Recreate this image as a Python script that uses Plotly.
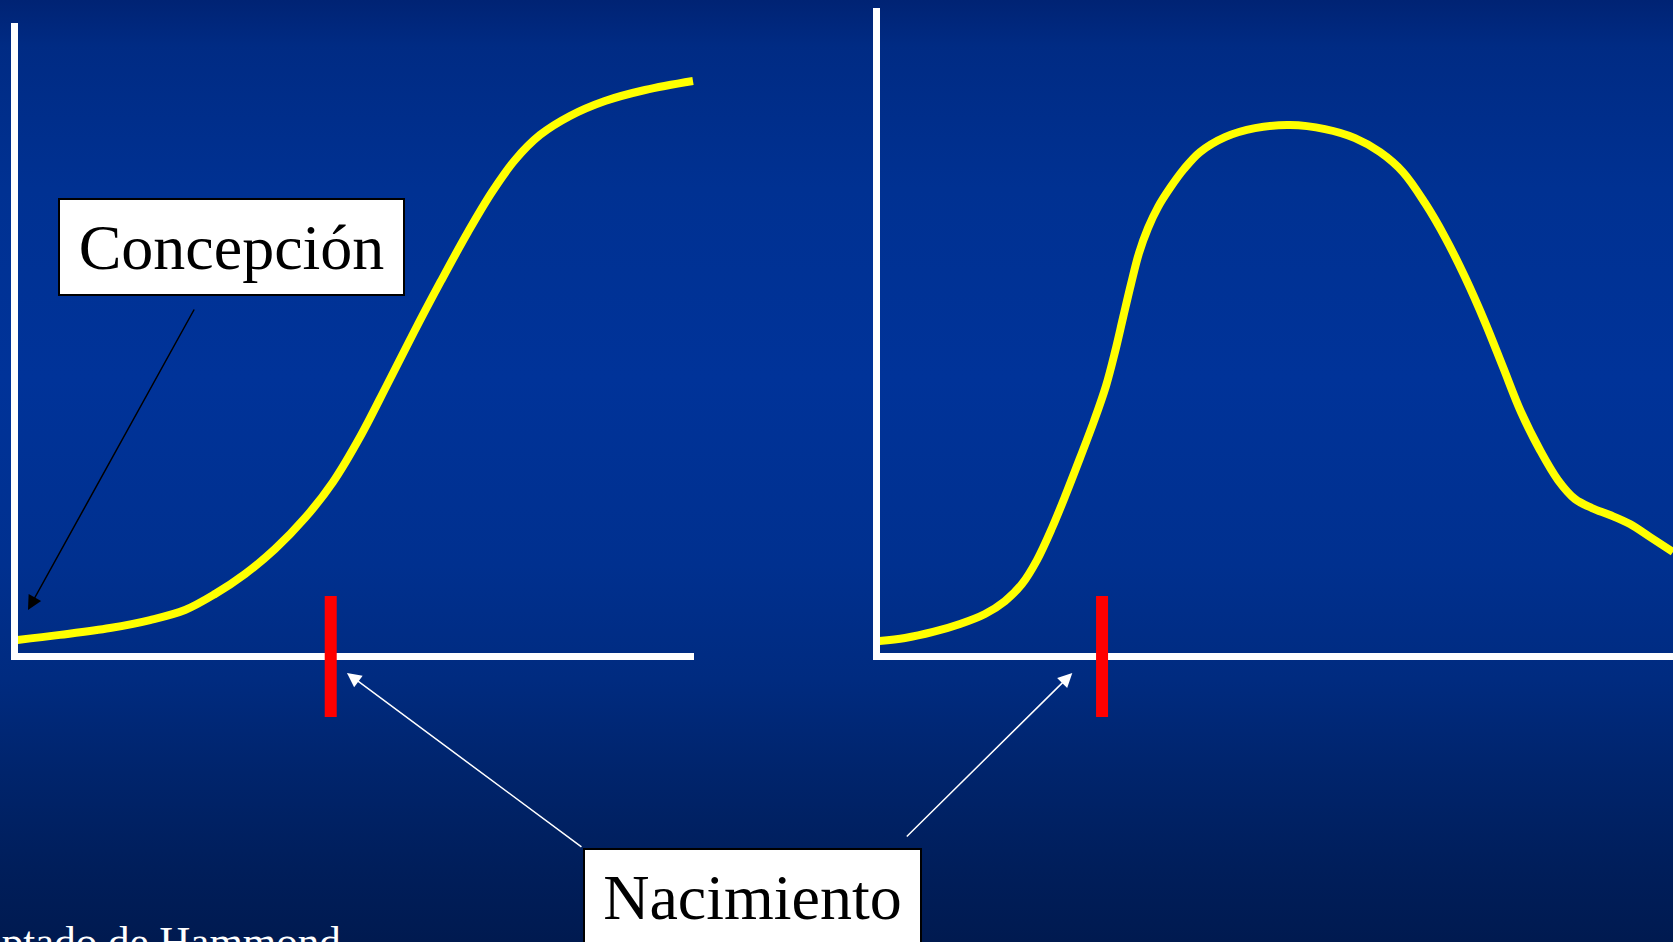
import base64
import plotly.graph_objects as go

# ---------------- data ----------------
# Left panel: growth curve (time vs size, arbitrary units)
left_time = [0, 6.28, 13.67, 19.59, 24.76, 29.19, 33.63, 38.06, 42.50, 46.64, 50.63,
             54.62, 58.61, 62.60, 66.59, 70.14, 73.54, 77.24, 81.67, 86.84, 92.76, 99.85]
left_value = [1.99, 2.80, 3.89, 5.16, 6.75, 9.29, 12.47, 16.44, 21.37, 27.09, 34.23,
              42.50, 50.91, 59.02, 66.80, 73.15, 78.24, 82.21, 85.23, 87.61, 89.36, 90.79]

# Right panel: velocity curve
right_time = [0, 3.77, 7.91, 11.90, 15.59, 18.55, 21.06, 23.28, 25.50, 27.57, 29.64,
              31.71, 33.48, 34.81, 35.99, 37.18, 38.36, 39.69, 41.17, 42.94, 45.01,
              47.38, 51.07, 55.51, 60.68, 65.85, 70.29, 73.98, 77.38, 80.64, 83.59,
              86.55, 89.50, 92.17, 94.83, 97.63, 100.30, 102.81, 105.32, 107.98,
              110.94, 113.90, 117.29]
right_value = [1.83, 2.30, 3.26, 4.53, 6.12, 8.18, 10.88, 14.69, 19.78, 25.18, 30.90,
               36.78, 42.34, 47.74, 53.14, 58.54, 63.46, 67.43, 70.77, 73.79, 76.81,
               79.51, 81.89, 83.32, 83.80, 83.16, 81.73, 79.51, 76.33, 71.41, 66.01,
               59.65, 52.50, 45.35, 38.21, 32.17, 27.40, 24.39, 22.95, 21.84, 20.41,
               18.35, 15.97]

birth_left = 46.3
birth_right = 32.9

label_conception = "Concepción"
label_birth = "Nacimiento"
source_text = "Adaptado de Hammond"

# ---------------- styling ----------------
W, H = 1673, 942
SERIF = "Liberation Serif, Times New Roman, serif"
YELLOW = "#FFFF00"

grad_stops = [(0.00, "#002374"), (0.05, "#002b84"), (0.20, "#003192"), (0.40, "#003399"),
              (0.60, "#00308f"), (0.72, "#002b80"), (0.82, "#00246c"), (0.92, "#001e5b"),
              (1.00, "#001a50")]
stops_svg = "".join(f'<stop offset="{o}" stop-color="{c}"/>' for o, c in grad_stops)
svg = (f'<svg xmlns="http://www.w3.org/2000/svg" width="{W}" height="{H}" '
       f'preserveAspectRatio="none"><defs><linearGradient id="g" x1="0" y1="0" x2="0" y2="1">'
       f'{stops_svg}</linearGradient></defs><rect width="{W}" height="{H}" fill="url(#g)"/></svg>')
bg_uri = "data:image/svg+xml;base64," + base64.b64encode(svg.encode()).decode()

fig = go.Figure()
fig.add_trace(go.Scatter(x=left_time, y=left_value, mode="lines",
                         line=dict(color=YELLOW, width=8, shape="spline", smoothing=1.0),
                         xaxis="x", yaxis="y", showlegend=False, hoverinfo="skip"))
fig.add_trace(go.Scatter(x=right_time, y=right_value, mode="lines",
                         line=dict(color=YELLOW, width=8, shape="spline", smoothing=1.0),
                         xaxis="x2", yaxis="y2", showlegend=False, hoverinfo="skip"))

ax_style = dict(showline=True, linecolor="white", linewidth=7, showticklabels=False,
                ticks="", showgrid=False, zeroline=False, fixedrange=True)

y_bottom = (H - 652.5) / H
fig.update_layout(
    width=W, height=H,
    margin=dict(l=0, r=0, t=0, b=0),
    paper_bgcolor="#002d88", plot_bgcolor="rgba(0,0,0,0)",
    showlegend=False,
    xaxis=dict(domain=[17.5 / W, 694 / W], range=[0, 100], anchor="y", **ax_style),
    yaxis=dict(domain=[y_bottom, (H - 23) / H], range=[0, 100], anchor="x", **ax_style),
    xaxis2=dict(domain=[879.5 / W, 1.0], range=[0, 117.3], anchor="y2", **ax_style),
    yaxis2=dict(domain=[y_bottom, (H - 8) / H], range=[0, 102.4], anchor="x2", **ax_style),
    images=[dict(source=bg_uri, xref="paper", yref="paper", x=0, y=1, sizex=1, sizey=1,
                 xanchor="left", yanchor="top", sizing="stretch", layer="below")],
    shapes=[
        dict(type="line", xref="x", yref="y domain", x0=birth_left, x1=birth_left,
             y0=-0.1025, y1=0.0898, line=dict(color="#FF0000", width=12), layer="above"),
        dict(type="line", xref="x2", yref="y2 domain", x0=birth_right, x1=birth_right,
             y0=-0.1001, y1=0.0877, line=dict(color="#FF0000", width=12), layer="above"),
    ],
)

annotations = [
    # label boxes
    dict(text=label_conception, xref="paper", yref="paper", x=231.5 / W, y=(H - 247) / H,
         xanchor="center", yanchor="middle", showarrow=False,
         font=dict(family=SERIF, size=64, color="black"), bgcolor="white",
         bordercolor="black", borderwidth=2, borderpad=0, width=343, height=94,
         align="center", valign="middle"),
    dict(text=label_birth, xref="paper", yref="paper", x=752.5 / W, y=(H - 897) / H,
         xanchor="center", yanchor="middle", showarrow=False,
         font=dict(family=SERIF, size=64, color="black"), bgcolor="white",
         bordercolor="black", borderwidth=2, borderpad=0, width=335, height=94,
         align="center", valign="middle"),
    # arrows
    dict(text="", xref="x", yref="paper", x=1.55, y=(H - 610) / H, ax=167, ay=-302,
         showarrow=True, arrowhead=2, arrowsize=1.9, arrowwidth=1.5, arrowcolor="black"),
    dict(text="", xref="x", yref="paper", x=birth_left + 2.4, y=(H - 673) / H, ax=236, ay=175,
         showarrow=True, arrowhead=2, arrowsize=1.9, arrowwidth=1.5, arrowcolor="white"),
    dict(text="", xref="x2", yref="paper", x=birth_right - 4.4, y=(H - 673) / H, ax=-167, ay=165,
         showarrow=True, arrowhead=2, arrowsize=1.9, arrowwidth=1.5, arrowcolor="white"),
    # source (cut by the bottom edge, as in the original slide)
    dict(text=source_text, xref="paper", yref="paper", x=-72 / W, y=(H - 916) / H,
         xanchor="left", yanchor="top", showarrow=False,
         font=dict(family=SERIF, size=43, color="white")),
]
fig.update_layout(annotations=annotations)

fig.write_html("out.html", config={"displayModeBar": False, "staticPlot": True},
               post_script="document.body.style.margin='0px';document.body.style.overflow='hidden';")
